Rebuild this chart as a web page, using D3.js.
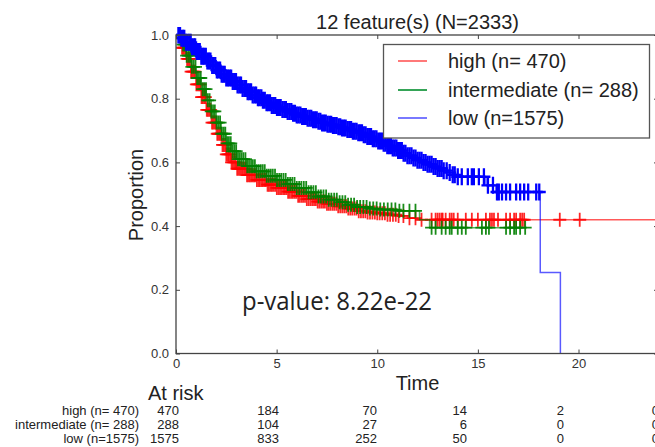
<!DOCTYPE html>
<html>
<head>
<meta charset="utf-8">
<script src="https://cdn.jsdelivr.net/npm/d3@7"></script>
<style>
  body { margin: 0; background: #fff; }
  svg { display: block; }
  text { font-family: "Liberation Sans", Arial, Helvetica, sans-serif; }
</style>
</head>
<body>
<svg id="chart" width="655" height="447"></svg>
<script>
// ---- Kaplan-Meier data by risk group ----
const groupNames = ["high", "intermediate", "low"];
const groupN = [470, 288, 1575];
const groupColors = ["#ff0000", "#008000", "#0000ff"];
const legendColors = ["#ff6a6a", "#1f9a45", "#6a6aff"];
const totalN = 2333;
const featureCount = 12;
const pValueText = "8.22e-22";

// step knots: time, survival proportion
const highTimes = [0, 0.25, 0.5, 0.75, 1.0, 1.25, 1.5, 1.75, 2.0, 2.25, 2.5, 2.75, 3.0, 3.5, 4.0, 4.5, 5.0, 5.5, 6.0, 6.5, 7.0, 7.5, 8.0, 8.5, 9.0, 9.5, 10.0, 10.5, 11.0, 11.5, 12.0, 24];
const highSurv  = [1.0, 0.96, 0.925, 0.885, 0.845, 0.805, 0.765, 0.725, 0.69, 0.655, 0.625, 0.6, 0.58, 0.56, 0.545, 0.53, 0.52, 0.508, 0.495, 0.485, 0.477, 0.47, 0.462, 0.455, 0.447, 0.443, 0.44, 0.436, 0.432, 0.425, 0.42, 0.42];

const midTimes = [0, 0.25, 0.5, 0.75, 1.0, 1.25, 1.5, 1.75, 2.0, 2.25, 2.5, 2.75, 3.0, 3.5, 4.0, 4.5, 5.0, 5.5, 6.0, 6.5, 7.0, 7.5, 8.0, 8.5, 9.0, 9.5, 10.0, 11.0, 12.1, 12.6, 17.4];
const midSurv  = [1.0, 0.97, 0.935, 0.9, 0.865, 0.83, 0.795, 0.76, 0.725, 0.69, 0.66, 0.635, 0.61, 0.588, 0.572, 0.558, 0.545, 0.532, 0.52, 0.506, 0.493, 0.483, 0.475, 0.467, 0.46, 0.455, 0.452, 0.448, 0.42, 0.395, 0.395];

const lowTimes = [0, 0.25, 0.5, 0.75, 1.0, 1.25, 1.5, 1.75, 2.0, 2.25, 2.5, 2.75, 3.0, 3.25, 3.5, 3.75, 4.0, 4.25, 4.5, 4.75, 5.0, 5.25, 5.5, 5.75, 6.0, 6.25, 6.5, 6.75, 7.0, 7.25, 7.5, 7.75, 8.0, 8.25, 8.5, 8.75, 9.0, 9.25, 9.5, 9.75, 10.0, 10.25, 10.5, 10.75, 11.0, 11.25, 11.5, 11.75, 12.0, 12.25, 12.5, 12.75, 13.0, 13.25, 13.5, 13.75, 14.0, 15.4, 15.9, 18.1, 19.1];
const lowSurv  = [1.0, 0.99, 0.977, 0.963, 0.948, 0.933, 0.918, 0.904, 0.89, 0.877, 0.865, 0.854, 0.843, 0.832, 0.822, 0.812, 0.803, 0.795, 0.787, 0.779, 0.772, 0.766, 0.76, 0.754, 0.749, 0.744, 0.739, 0.734, 0.729, 0.724, 0.72, 0.716, 0.712, 0.708, 0.703, 0.698, 0.693, 0.687, 0.681, 0.674, 0.667, 0.66, 0.652, 0.645, 0.637, 0.629, 0.621, 0.614, 0.607, 0.6, 0.594, 0.587, 0.581, 0.574, 0.568, 0.561, 0.555, 0.528, 0.507, 0.254, 0];

// censoring times (drawn as "+" on each curve)
const highCensor = [0.3, 0.36, 0.42, 0.49, 0.55, 0.62, 0.68, 0.75, 0.81, 0.88, 0.94, 1.01, 1.07, 1.14, 1.2, 1.27, 1.33, 1.4, 1.46, 1.53, 1.59, 1.66, 1.72, 1.79, 1.85, 1.92, 1.98, 2.05, 2.11, 2.18, 2.24, 2.31, 2.37, 2.44, 2.5, 2.57, 2.63, 2.7, 2.76, 2.83, 2.9, 2.97, 3.04, 3.11, 3.18, 3.25, 3.32, 3.39, 3.46, 3.53, 3.6, 3.67, 3.74, 3.81, 3.88, 3.95, 4.02, 4.1, 4.17, 4.25, 4.32, 4.4, 4.47, 4.55, 4.62, 4.7, 4.77, 4.85, 4.93, 5.01, 5.09, 5.17, 5.25, 5.33, 5.41, 5.49, 5.57, 5.65, 5.73, 5.81, 5.9, 5.98, 6.07, 6.15, 6.24, 6.32, 6.41, 6.5, 6.59, 6.68, 6.77, 6.86, 6.95, 7.04, 7.13, 7.22, 7.31, 7.4, 7.5, 7.59, 7.68, 7.78, 7.87, 7.97, 8.06, 8.16, 8.26, 8.36, 8.46, 8.56, 8.66, 8.76, 8.87, 8.97, 9.08, 9.19, 9.3, 9.41, 9.52, 9.64, 9.76, 9.88, 10.0, 10.12, 10.25, 10.38, 10.51, 10.64, 10.78, 10.92, 11.06, 11.3, 11.6, 11.9, 12.2, 12.7, 12.9, 13.0, 13.1, 13.2, 13.25, 13.4, 13.6, 13.7, 13.8, 14.0, 14.4, 14.7, 15.0, 15.4, 15.6, 15.7, 15.8, 16.0, 16.4, 16.6, 16.8, 16.9, 17.1, 17.2, 17.3, 19.07, 20.06];

const midCensor = [0.35, 0.44, 0.53, 0.62, 0.7, 0.79, 0.88, 0.97, 1.05, 1.14, 1.23, 1.32, 1.4, 1.49, 1.58, 1.67, 1.75, 1.84, 1.93, 2.02, 2.1, 2.19, 2.28, 2.37, 2.45, 2.54, 2.63, 2.72, 2.81, 2.9, 2.99, 3.08, 3.17, 3.26, 3.35, 3.45, 3.54, 3.63, 3.73, 3.82, 3.92, 4.01, 4.11, 4.21, 4.31, 4.41, 4.51, 4.61, 4.71, 4.81, 4.92, 5.02, 5.13, 5.23, 5.34, 5.45, 5.56, 5.67, 5.78, 5.89, 6.0, 6.12, 6.23, 6.35, 6.47, 6.59, 6.71, 6.83, 6.95, 7.08, 7.2, 7.33, 7.46, 7.59, 7.72, 7.86, 7.99, 8.13, 8.27, 8.41, 8.55, 8.7, 8.85, 9.0, 9.15, 9.31, 9.47, 9.63, 9.8, 9.97, 10.15, 10.33, 10.52, 10.71, 10.9, 11.1, 11.3, 11.6, 11.9, 12.7, 12.9, 13.2, 13.4, 13.6, 13.7, 14.0, 14.2, 14.4, 15.2, 15.4, 15.55, 16.4, 16.6, 16.8, 16.9, 17.1, 17.35];

const lowCensor = [0.12, 0.2, 0.27, 0.35, 0.41, 0.5, 0.58, 0.66, 0.73, 0.8, 0.88, 0.95, 1.03, 1.1, 1.18, 1.26, 1.33, 1.4, 1.48, 1.56, 1.63, 1.71, 1.8, 1.87, 1.95, 2.03, 2.1, 2.19, 2.27, 2.35, 2.42, 2.5, 2.58, 2.66, 2.74, 2.82, 2.9, 2.98, 3.06, 3.15, 3.23, 3.31, 3.4, 3.48, 3.56, 3.64, 3.73, 3.81, 3.9, 3.98, 4.07, 4.15, 4.24, 4.32, 4.41, 4.5, 4.58, 4.67, 4.76, 4.85, 4.93, 5.02, 5.11, 5.2, 5.29, 5.38, 5.46, 5.55, 5.64, 5.73, 5.82, 5.91, 6.0, 6.09, 6.18, 6.27, 6.36, 6.45, 6.54, 6.63, 6.72, 6.81, 6.9, 6.99, 7.08, 7.17, 7.26, 7.35, 7.44, 7.53, 7.62, 7.71, 7.8, 7.89, 7.98, 8.07, 8.16, 8.25, 8.34, 8.43, 8.52, 8.61, 8.7, 8.79, 8.88, 8.97, 9.06, 9.15, 9.24, 9.33, 9.42, 9.51, 9.6, 9.69, 9.78, 9.87, 9.96, 10.05, 10.14, 10.23, 10.32, 10.41, 10.5, 10.59, 10.68, 10.77, 10.86, 10.95, 11.04, 11.13, 11.22, 11.31, 11.4, 11.5, 11.6, 11.7, 11.8, 11.9, 12.0, 12.1, 12.2, 12.3, 12.4, 12.5, 12.6, 12.7, 12.8, 12.9, 13.0, 13.1, 13.2, 13.3, 13.45, 13.6, 13.75, 13.85, 14.0, 14.2, 14.5, 14.7, 14.8, 15.05, 15.3, 15.5, 15.75, 15.95, 16.04, 16.2, 16.4, 16.6, 16.9, 17.1, 17.3, 17.5, 17.9, 18.05];

// axis ticks
const xTicks = [0, 5, 10, 15, 20];
const yTicks = [0, 0.2, 0.4, 0.6, 0.8, 1.0];

// number at risk table
const riskHigh = [470, 184, 70, 14, 2, 0];
const riskMid  = [288, 104, 27, 6, 0, 0];
const riskLow  = [1575, 833, 252, 50, 0, 0];

// ---- layout ----
const svg = d3.select("#chart");
const W = 655, H = 447;
svg.append("rect").attr("width", W).attr("height", H).attr("fill", "#fff");

const plot = { left: 176, right: 659, top: 35, bottom: 353.5 };
const x = d3.scaleLinear().domain([0, 24]).range([plot.left, plot.right]);
const y = d3.scaleLinear().domain([0, 1]).range([plot.bottom, plot.top]);

const curves = [
  { times: highTimes, surv: highSurv, censor: highCensor, mw: 1.8, mo: 0.85, mh: 7 },
  { times: midTimes, surv: midSurv, censor: midCensor, mw: 1.8, mo: 0.9, mh: 7 },
  { times: lowTimes, surv: lowSurv, censor: lowCensor, mw: 2.3, mo: 1, mh: 8.5 }
];

const defs = svg.append("defs");
defs.append("clipPath").attr("id", "plotclip")
  .append("rect").attr("x", plot.left).attr("y", plot.top - 8)
  .attr("width", plot.right - plot.left).attr("height", plot.bottom - plot.top + 8);

const g = svg.append("g").attr("clip-path", "url(#plotclip)");
const line = d3.line().x(d => x(d[0])).y(d => y(d[1])).curve(d3.curveStepAfter);
const bis = d3.bisector(d => d).right;

curves.forEach((c, i) => {
  const pts = c.times.map((t, k) => [t, c.surv[k]]);
  g.append("path").datum(pts)
    .attr("d", line)
    .attr("fill", "none")
    .attr("stroke", groupColors[i])
    .attr("stroke-opacity", 0.65)
    .attr("stroke-width", 1.5);
  // survival value at each censoring time
  const marks = c.censor.map(t => {
    const k = Math.max(0, bis(c.times, t) - 1);
    return [t, c.surv[k]];
  });
  g.append("g").selectAll("path").data(marks).join("path")
    .attr("transform", d => `translate(${x(d[0])},${y(d[1])})`)
    .attr("d", `M-6.5,0H6.5M0,${-c.mh}V${c.mh}`)
    .attr("stroke", groupColors[i])
    .attr("stroke-opacity", c.mo)
    .attr("stroke-width", c.mw)
    .attr("fill", "none");
});

// ---- axes: frame with inward ticks on all sides ----
const axisColor = "#444";
const tickText = "#333";

const yAxis = svg.append("g").attr("transform", `translate(${plot.left},0)`)
  .call(d3.axisLeft(y).tickValues(yTicks).tickSize(-4).tickPadding(7).tickFormat(d3.format(".1f")));
const xAxis = svg.append("g").attr("transform", `translate(0,${plot.bottom})`)
  .call(d3.axisBottom(x).tickValues(xTicks).tickSize(-4).tickPadding(5).tickFormat(d3.format("d")));
const yAxisR = svg.append("g").attr("transform", `translate(${plot.right},0)`)
  .call(d3.axisRight(y).tickValues(yTicks).tickSize(-5).tickFormat(""));
const xAxisT = svg.append("g").attr("transform", `translate(0,${plot.top})`)
  .call(d3.axisTop(x).tickValues(xTicks).tickSize(-4).tickFormat(""));

[yAxis, xAxis, yAxisR, xAxisT].forEach(a => {
  a.select(".domain").remove();
  a.selectAll(".tick line").attr("stroke", axisColor).attr("stroke-width", 1);
  a.selectAll(".tick text").attr("fill", tickText).style("font-size", "13px")
    .style("font-family", "'Liberation Sans', Arial, sans-serif");
});

svg.append("rect")
  .attr("x", plot.left).attr("y", plot.top)
  .attr("width", plot.right - plot.left).attr("height", plot.bottom - plot.top)
  .attr("fill", "none").attr("stroke", axisColor).attr("stroke-width", 1.3);

// ---- titles ----
svg.append("text")
  .attr("x", (plot.left + plot.right) / 2).attr("y", 29)
  .attr("text-anchor", "middle").attr("fill", "#222").style("font-size", "20px")
  .text(`${featureCount} feature(s) (N=${totalN})`);

svg.append("text")
  .attr("transform", "translate(143,195) rotate(-90)")
  .attr("text-anchor", "middle").attr("fill", "#222").style("font-size", "20px")
  .text("Proportion");

svg.append("text")
  .attr("x", (plot.left + plot.right) / 2).attr("y", 390)
  .attr("text-anchor", "middle").attr("fill", "#222").style("font-size", "20px")
  .text("Time");

svg.append("text")
  .attr("x", 148).attr("y", 400)
  .attr("fill", "#222").style("font-size", "20px")
  .text("At risk");

// p-value annotation
svg.append("text")
  .attr("x", 242).attr("y", 310)
  .attr("fill", "#222")
  .style("font-family", "'Open Sans', 'Noto Sans', sans-serif")
  .style("font-size", "25px")
  .attr("textLength", 190).attr("lengthAdjust", "spacingAndGlyphs")
  .text(`p-value: ${pValueText}`);

// ---- legend ----
const leg = svg.append("g");
leg.append("rect")
  .attr("x", 383.5).attr("y", 44.5).attr("width", 266).attr("height", 93.5)
  .attr("fill", "#fff").attr("stroke", "#555").attr("stroke-width", 1.3);
const legY = [61, 90, 118];
groupNames.forEach((name, i) => {
  leg.append("line")
    .attr("x1", 398).attr("x2", 427).attr("y1", legY[i]).attr("y2", legY[i])
    .attr("stroke", legendColors[i]).attr("stroke-width", 1.8);
  const nStr = String(groupN[i]).padStart(4, " ");
  leg.append("text")
    .attr("x", 448).attr("y", legY[i] + 7)
    .attr("fill", "#222").style("font-size", "20px")
    .style("white-space", "pre")
    .text(`${name} (n=${nStr})`);
});

// ---- number at risk table ----
const rowY = [415, 429, 443];
const colRight = [179, 279, 377, 467, 564, 659];
const riskRows = [riskHigh, riskMid, riskLow];
riskRows.forEach((row, r) => {
  const nStr = String(groupN[r]).padStart(4, " ");
  svg.append("text")
    .attr("x", 139).attr("y", rowY[r])
    .attr("text-anchor", "end").attr("fill", "#222").style("font-size", "13px")
    .style("white-space", "pre")
    .text(`${groupNames[r]} (n=${nStr})`);
  row.forEach((v, c) => {
    svg.append("text")
      .attr("x", colRight[c]).attr("y", rowY[r])
      .attr("text-anchor", "end").attr("fill", "#222").style("font-size", "13px")
      .text(v);
  });
});
</script>
</body>
</html>
